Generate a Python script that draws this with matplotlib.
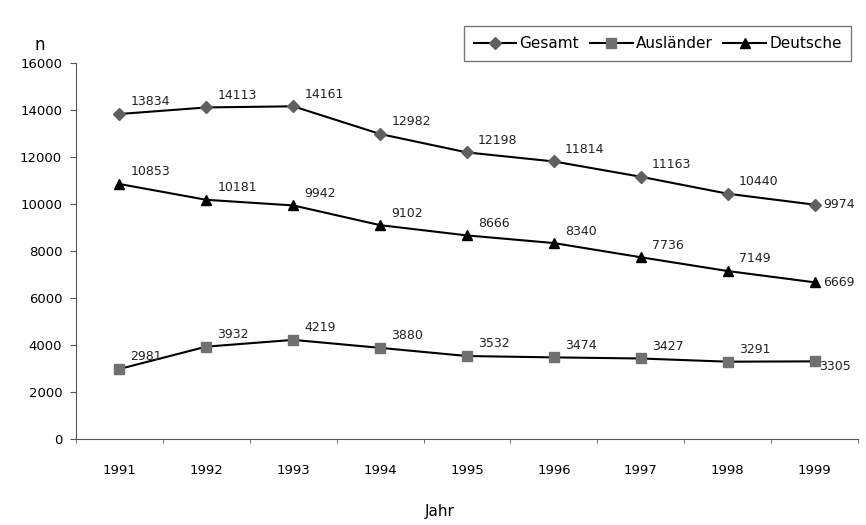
import matplotlib
matplotlib.use("Agg")
import matplotlib.pyplot as plt
import numpy as np

years = ["1991", "1992", "1993", "1994", "1995", "1996", "1997", "1998", "1999"]
gesamt = [13834, 14113, 14161, 12982, 12198, 11814, 11163, 10440, 9974]
auslaender = [2981, 3932, 4219, 3880, 3532, 3474, 3427, 3291, 3305]
deutsche = [10853, 10181, 9942, 9102, 8666, 8340, 7736, 7149, 6669]

plt.rcParams["font.family"] = ["DejaVu Sans"]

fig = plt.figure(figsize=(8.66, 5.25), dpi=100)
ax = fig.add_axes([0.0878, 0.1638, 0.903, 0.716])
x = np.arange(len(years))

series = [
    ("Gesamt", gesamt, "D", "#606060", 6),
    ("Ausländer", auslaender, "s", "#707070", 7),
    ("Deutsche", deutsche, "^", "black", 7),
]
for name, vals, mk, mc, ms in series:
    ax.plot(x, vals, color="black", lw=1.5, marker=mk, markersize=ms,
            markerfacecolor=mc, markeredgecolor=mc, label=name)
    for i, v in enumerate(vals):
        if i == len(vals) - 1:
            off = (3, -4) if name == "Ausländer" else (6, 0)
            va = "center"
        else:
            off = (8, 4)
            va = "bottom"
        ax.annotate(str(v), (i, v), xytext=off, textcoords="offset points",
                    fontsize=9, va=va, ha="left", color="#222")

ax.set_xlim(-0.5, 8.5)
ax.set_ylim(0, 16000)
ax.set_yticks(np.arange(0, 16001, 2000))
ax.set_xticks(x)
ax.set_xticklabels(years)
ax.set_xticks(np.arange(-0.5, 9, 1), minor=True)
ax.tick_params(axis="x", which="major", length=0, pad=18, labelsize=9.5)
ax.tick_params(axis="x", which="minor", length=3, color="#555")
ax.tick_params(axis="y", length=4, color="#555", labelsize=9.5, pad=6)
for s in ["top", "right"]:
    ax.spines[s].set_visible(False)
for s in ["left", "bottom"]:
    ax.spines[s].set_color("#555")

fig.text(0.046, 0.914, "n", fontsize=12, ha="center", va="center")
fig.text(0.508, 0.025, "Jahr", fontsize=11, ha="center", va="center")

leg = fig.legend(loc="upper right", bbox_to_anchor=(0.992, 0.965), ncol=3,
                 fontsize=11, frameon=True, fancybox=False, handlelength=2.8,
                 handletextpad=0.2, columnspacing=0.7, borderpad=0.65)
leg.get_frame().set_edgecolor("#555")
leg.get_frame().set_linewidth(1.0)

fig.savefig("out.png", dpi=100)
